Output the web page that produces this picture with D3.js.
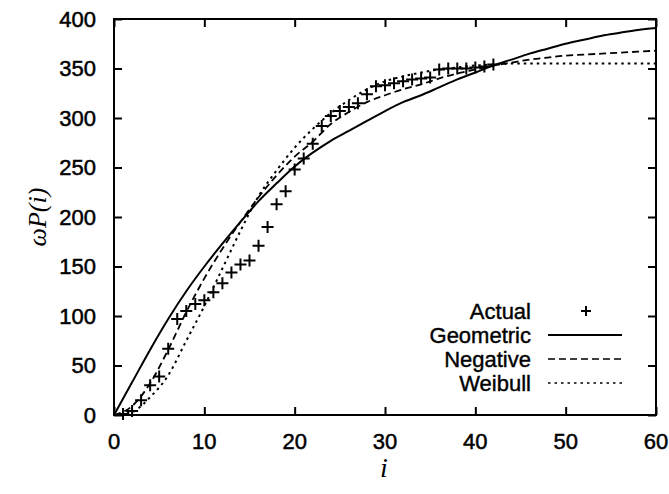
<!DOCTYPE html>
<html>
<head>
<meta charset="utf-8">
<title>wP(i)</title>
<script src="https://d3js.org/d3.v7.min.js"></script>
<style>
body { margin: 0; background: #fff; }
.tick-label { font: 22px "Liberation Sans", Arial, sans-serif; fill: #000; stroke: #000; stroke-width: 0.5px; }
.legend text { font: 22px "Liberation Sans", Arial, sans-serif; fill: #000; stroke: #000; stroke-width: 0.4px; }
</style>
</head>
<body>
<script>
// fitted curves, sampled every 2 steps of i
var gridI = [0, 2, 4, 6, 8, 10, 12, 14, 16, 18, 20, 22, 24, 26, 28, 30,
             32, 34, 36, 38, 40, 42, 44, 46, 48, 50, 52, 54, 56, 58, 60];
var geometric = [0, 33, 66, 97, 125, 150, 173, 195, 216, 234, 251, 265, 277, 287, 297, 307,
                 316, 323, 331, 339, 346, 353, 359, 365, 370, 375, 379, 383, 386, 389, 391];
var negative = [0, 9, 32, 66, 104, 138, 168, 195, 220, 242, 261, 276, 294, 306, 316, 323,
                329, 334, 340, 345, 349, 353, 356, 359, 361, 363, 364, 365, 366, 367, 368];
var weibull = [0, 3, 18, 40, 75, 110, 148, 186, 221, 247, 270, 289, 305, 318, 329, 337,
               342, 346, 349, 351, 353, 354, 355, 355, 355, 355, 355, 355, 355, 355, 355];

// observed values
var actualI = [1, 2, 3, 4, 5, 6, 7, 8, 9, 10, 11, 12, 13, 14, 15, 16, 17, 18, 19, 20, 21,
               22, 23, 24, 25, 26, 27, 28, 29, 30, 31, 32, 33, 34, 35, 36, 37, 38, 39, 40, 41, 42];
var actual = [1, 4, 15, 30, 39, 67, 97, 105, 112, 116, 124, 133, 144, 152, 156, 171, 190, 213, 226, 248, 259,
              274, 292, 302, 307, 311, 315, 324, 332, 333, 335, 337, 339, 340, 341, 349, 350, 350, 350, 351, 352, 354];

var xTicks = [0, 10, 20, 30, 40, 50, 60];
var yTicks = [0, 50, 100, 150, 200, 250, 300, 350, 400];
var legendNames = ["Actual", "Geometric", "Negative", "Weibull"];

var W = 669, H = 494;
var pl = 114, pr = 656, pt = 19, pb = 415;

var x = d3.scaleLinear().domain([0, 60]).range([pl, pr]);
var y = d3.scaleLinear().domain([0, 400]).range([pb, pt]);

var svg = d3.select("body").append("svg")
    .attr("width", W)
    .attr("height", H);

// ticks on all four sides, pointing inward
var tl = 8;
svg.append("g").attr("transform", "translate(0," + pb + ")")
    .call(d3.axisBottom(x).tickValues(xTicks).tickSize(-tl).tickFormat(""));
svg.append("g").attr("transform", "translate(0," + pt + ")")
    .call(d3.axisTop(x).tickValues(xTicks).tickSize(-tl).tickFormat(""));
svg.append("g").attr("transform", "translate(" + pl + ",0)")
    .call(d3.axisLeft(y).tickValues(yTicks).tickSize(-tl).tickFormat(""));
svg.append("g").attr("transform", "translate(" + pr + ",0)")
    .call(d3.axisRight(y).tickValues(yTicks).tickSize(-tl).tickFormat(""));
svg.selectAll(".domain").remove();
svg.selectAll(".tick line").attr("stroke", "#000").attr("stroke-width", 2);

svg.append("rect")
    .attr("x", pl).attr("y", pt)
    .attr("width", pr - pl).attr("height", pb - pt)
    .attr("fill", "none").attr("stroke", "#000").attr("stroke-width", 2);

// tick labels
svg.selectAll(".xl").data(xTicks).enter().append("text")
    .attr("class", "tick-label")
    .attr("x", function(d) { return x(d); })
    .attr("y", 449)
    .attr("text-anchor", "middle")
    .text(function(d) { return d; });

svg.selectAll(".yl").data(yTicks).enter().append("text")
    .attr("class", "tick-label")
    .attr("x", 96)
    .attr("y", function(d) { return y(d); })
    .attr("dy", "0.36em")
    .attr("text-anchor", "end")
    .text(function(d) { return d; });

// axis titles
svg.append("text")
    .attr("x", 384).attr("y", 477)
    .attr("text-anchor", "middle")
    .style("font", "italic 28px 'Liberation Serif', serif")
    .text("i");

svg.append("text")
    .attr("transform", "translate(46,217) rotate(-90)")
    .attr("text-anchor", "middle")
    .style("font", "italic 26px 'Liberation Serif', serif")
    .text("ωP(i)");

// curves
var line = d3.line()
    .x(function(d) { return x(d[0]); })
    .y(function(d) { return y(d[1]); })
    .curve(d3.curveMonotoneX);

var styles = {
  Geometric: { dash: null, w: 2 },
  Negative: { dash: "7,4", w: 1.8 },
  Weibull: { dash: "2.5,4", w: 2 }
};

var series = [
  { name: "Geometric", values: geometric },
  { name: "Negative", values: negative },
  { name: "Weibull", values: weibull }
];

series.forEach(function(s) {
  svg.append("path")
      .datum(gridI.map(function(i, k) { return [i, s.values[k]]; }))
      .attr("d", line)
      .attr("fill", "none")
      .attr("stroke", "#000")
      .attr("stroke-width", styles[s.name].w)
      .attr("stroke-dasharray", styles[s.name].dash);
});

// plus marks
function plus(g, cx, cy, r) {
  g.append("path")
      .attr("d", "M" + (cx - r) + "," + cy + "H" + (cx + r) + "M" + cx + "," + (cy - r) + "V" + (cy + r))
      .attr("stroke", "#000")
      .attr("stroke-width", 2)
      .attr("fill", "none");
}

var marks = svg.append("g");
actualI.forEach(function(i, k) {
  plus(marks, x(i), y(actual[k]), 6);
});

// legend
var legend = svg.append("g").attr("class", "legend");
var rowY = [311, 335, 359, 383];
legendNames.forEach(function(n, k) {
  legend.append("text")
      .attr("x", 531)
      .attr("y", rowY[k])
      .attr("dy", "0.36em")
      .attr("text-anchor", "end")
      .text(n);
  if (n === "Actual") {
    plus(legend, 586, rowY[k], 5);
  } else {
    legend.append("line")
        .attr("x1", 548).attr("x2", 622)
        .attr("y1", rowY[k]).attr("y2", rowY[k])
        .attr("stroke", "#000")
        .attr("stroke-width", n === "Geometric" ? 2 : 1.6)
        .attr("stroke-dasharray", styles[n].dash);
  }
});
</script>
</body>
</html>
